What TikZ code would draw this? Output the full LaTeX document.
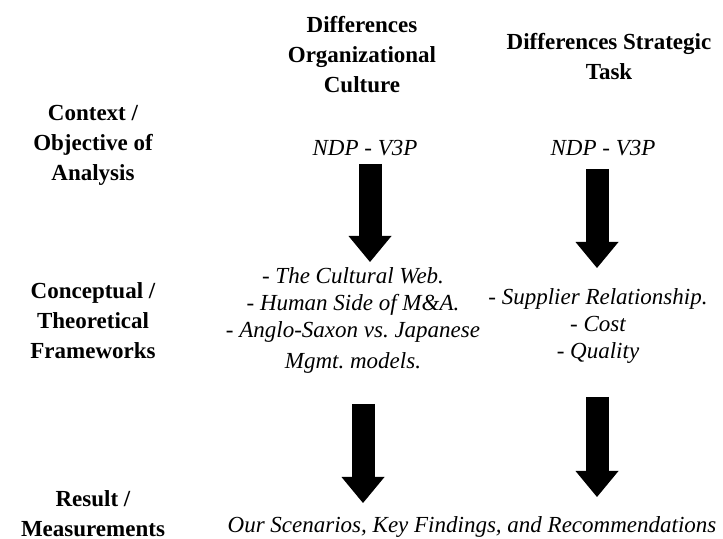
\documentclass[tikz,border=0pt]{standalone}
\usepackage{fontspec}
\setmainfont{Liberation Serif}
\usetikzlibrary{arrows.meta}
\frenchspacing

\begin{document}
\begin{tikzpicture}[x=0.5pt,y=-0.5pt,
    lbl/.style={align=center,inner sep=0pt,font=\fontsize{11.5pt}{15pt}\selectfont\bfseries},
    itm/.style={align=center,inner sep=0pt,font=\fontsize{11.5pt}{13.5pt}\selectfont\itshape},
    blockarrow/.style={line width=11.5pt,-{Triangle[width=21.5pt,length=13pt,line width=0pt]}}]
  \useasboundingbox (0,0) rectangle (723,539);
  % column heads
  \node [lbl] (headCult)  at (362,55) {Differences\\Organizational\\Culture};
  \node [lbl] (headTask)  at (609,57) {Differences Strategic\\Task};
  % row labels
  \node [lbl] (rowContext) at (93,145) {Context /\\Objective of\\Analysis};
  \node [lbl] (rowFrame)   at (93,321) {Conceptual /\\Theoretical\\Frameworks};
  \node [lbl] (rowResult)  at (93,514) {Result /\\Measurements};
  % cells
  \node [itm] (ndpCult) at (365,148) {NDP - V3P};
  \node [itm] (ndpTask) at (603,148) {NDP - V3P};
  \node [itm] (frameCult) at (353,320) {- The Cultural Web.\\- Human Side of M\&A.\\- Anglo-Saxon vs. Japanese\\[2pt]Mgmt. models.};
  \node [itm] (frameTask) at (598,326) {- Supplier Relationship.\\- Cost\\- Quality};
  \node [itm] (outcome) at (472,527) {Our Scenarios, Key Findings, and Recommendations};
  % arrows
  \coordinate (cultTop)  at (370,164);  \coordinate (cultTip)  at (370,262);
  \coordinate (taskTop)  at (597,169);  \coordinate (taskTip)  at (597,268);
  \coordinate (cultTop2) at (363,404);  \coordinate (cultTip2) at (363,503);
  \coordinate (taskTop2) at (597,397);  \coordinate (taskTip2) at (597,497);
  \draw [blockarrow] (cultTop)  -- (cultTip);
  \draw [blockarrow] (taskTop)  -- (taskTip);
  \draw [blockarrow] (cultTop2) -- (cultTip2);
  \draw [blockarrow] (taskTop2) -- (taskTip2);
\end{tikzpicture}
\end{document}
